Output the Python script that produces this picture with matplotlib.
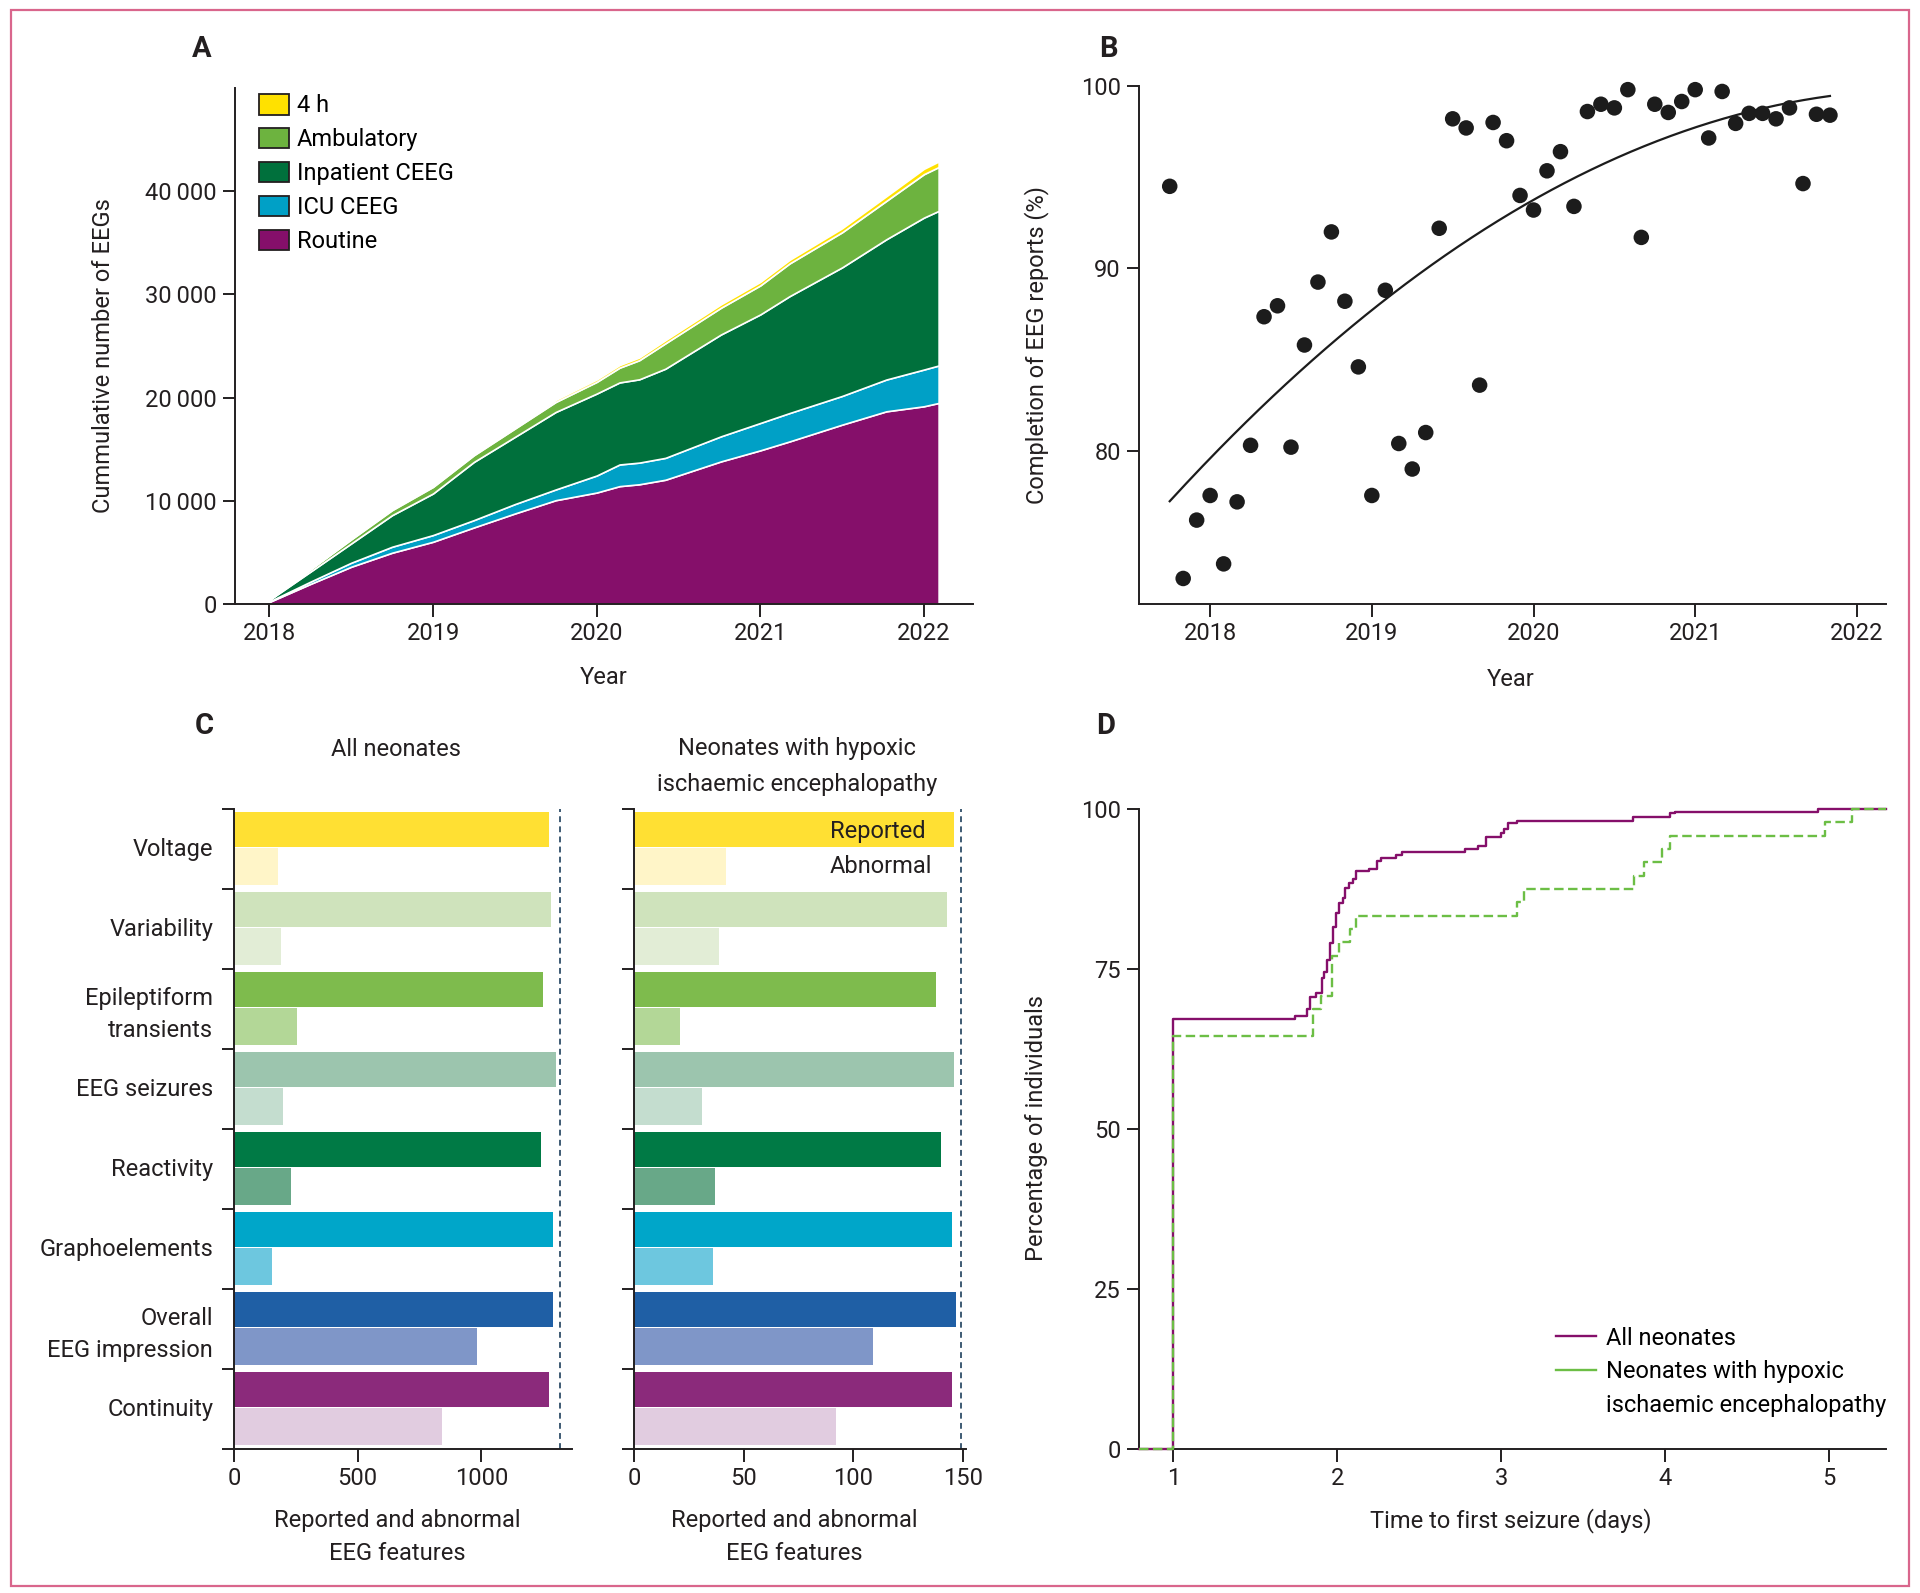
import numpy as np
import pandas as pd
import matplotlib
matplotlib.use("Agg")
import matplotlib.pyplot as plt
from matplotlib.lines import Line2D
from matplotlib.patches import Patch, Rectangle

plt.rcParams['font.family'] = ['Roboto', 'DejaVu Sans']
plt.rcParams['font.size'] = 17

INK = '#231f20'
W, H = 1920, 1593

# ---- A: cumulative EEGs by type ----
years_a = [2018.0, 2018.25, 2018.5, 2018.75, 2019.0, 2019.25, 2019.5, 2019.75, 2020.0, 2020.14,
           2020.26, 2020.42, 2020.76, 2021.0, 2021.18, 2021.5, 2021.77, 2022.0, 2022.09]
routine = [200, 1940, 3610, 4970, 6030, 7420, 8770, 10060, 10800, 11420,
           11600, 12040, 13820, 14890, 15760, 17380, 18670, 19160, 19480]
icu_ceeg = [50, 220, 390, 580, 650, 710, 910, 1040, 1650, 2100,
            2100, 2120, 2430, 2650, 2750, 2780, 3080, 3560, 3630]
inpatient_ceeg = [150, 970, 1870, 3060, 4030, 5640, 6510, 7510, 7940, 7950,
                  8070, 8640, 9870, 10520, 11330, 12460, 13590, 14720, 14980]
ambulatory = [20, 220, 390, 490, 640, 650, 810, 970, 1130, 1430,
              1850, 2460, 2590, 2810, 3170, 3400, 3720, 4210, 4250]
four_h = [10, 40, 70, 100, 120, 140, 170, 200, 230, 250,
          260, 300, 330, 340, 350, 390, 450, 520, 540]
type_labels = ['Routine', 'ICU CEEG', 'Inpatient CEEG', 'Ambulatory', '4 h']
type_colors = ['#850f6a', '#00a0c6', '#00703c', '#6db33f', '#ffe100']

# ---- B: monthly completion of EEG reports (%) from Oct 2017 ----
completion = [94.5, 73.0, 76.2, 77.55, 73.8, 77.2, 80.3, 87.35, 87.95, 80.2,
              85.8, 89.25, 92.0, 88.2, 84.6, 77.55, 88.8, 80.4, 79.0, 81.0,
              92.2, 98.2, 97.7, 83.6, 98.0, 97.0, 94.0, 93.2, 95.35, 96.4,
              93.4, 98.6, 99.0, 98.8, 99.8, 91.7, 99.0, 98.55, 99.15, 99.8,
              97.15, 99.7, 97.95, 98.5, 98.5, 98.2, 98.8, 94.65, 98.45, 98.4]

# ---- C: reported / abnormal EEG features ----
features = ['Voltage', 'Variability', 'Epileptiform\ntransients', 'EEG seizures',
            'Reactivity', 'Graphoelements', 'Overall\nEEG impression', 'Continuity']
all_reported = [1273, 1284, 1251, 1304, 1243, 1289, 1289, 1273]
all_abnormal = [177, 192, 253, 197, 230, 154, 982, 841]
all_total = 1319
hie_reported = [146, 143, 138, 146, 140, 145, 147, 145]
hie_abnormal = [42, 39, 21, 31, 37, 36, 109, 92]
hie_total = 149
reported_colors = ['#ffe033', '#cfe3bc', '#7ebb4d', '#9cc5ae', '#007a45', '#00a6c9', '#1f5fa5', '#8b2a7b']
abnormal_colors = ['#fff5c8', '#e2edd6', '#b3d797', '#c4ddcf', '#68a888', '#6dc7df', '#7f96c8', '#e1cce0']

# ---- D: time to first seizure ----
days_all = [0.79, 1.0, 1.74, 1.816, 1.836, 1.871, 1.905, 1.917, 1.937, 1.958, 1.974, 1.993,
            2.011, 2.035, 2.046, 2.074, 2.094, 2.115, 2.196, 2.242, 2.267, 2.356, 2.395,
            2.781, 2.862, 2.91, 3.0, 3.017, 3.041, 3.1, 3.806, 4.03, 4.064, 4.935, 5.35]
pct_all = [0, 67.2, 67.7, 68.8, 70.7, 71.3, 73.6, 74.6, 76.4, 79.0, 81.5, 83.7,
           85.3, 86.1, 87.7, 88.4, 89.1, 90.3, 90.7, 91.8, 92.3, 92.8, 93.3,
           93.8, 94.2, 95.7, 96.3, 96.8, 97.8, 98.2, 98.7, 99.3, 99.6, 100, 100]
days_hie = [0.79, 1.0, 1.853, 1.9, 1.971, 2.011, 2.077, 2.115, 3.098, 3.139,
            3.814, 3.875, 3.983, 4.03, 4.98, 5.143, 5.35]
pct_hie = [0, 64.6, 68.75, 70.8, 77.1, 79.2, 81.25, 83.3, 85.4, 87.5,
           89.6, 91.7, 93.75, 95.8, 97.9, 100, 100]
purple = '#850f6a'
green = '#6cbe45'


def box(l, t, r, b):
    return [l / W, 1 - b / H, (r - l) / W, (b - t) / H]


def ftext(x, y, s, **kw):
    kw.setdefault('ha', 'center')
    kw.setdefault('va', 'center')
    kw.setdefault('color', INK)
    fig.text(x / W, 1 - y / H, s, **kw)


def style(ax):
    for s in ['top', 'right']:
        ax.spines[s].set_visible(False)
    for s in ['left', 'bottom']:
        ax.spines[s].set_linewidth(1.4)
        ax.spines[s].set_color(INK)
    ax.tick_params(length=9, width=1.4, color=INK, labelcolor=INK, labelsize=17, pad=4)


fig = plt.figure(figsize=(19.2, 15.93), dpi=100)
fig.patches.append(Rectangle((11 / W, 1 - 1586 / H), 1898 / W, 1576 / H, transform=fig.transFigure,
                             fill=False, edgecolor='#d9668c', linewidth=1.6))

# A
ax = fig.add_axes(box(235, 88, 973, 604))
style(ax)
ax.stackplot(years_a, routine, icu_ceeg, inpatient_ceeg, ambulatory, four_h,
             colors=type_colors, edgecolor='white', linewidth=1.2)
ax.set_xlim(2017.79, 2022.30)
ax.set_ylim(0, 50000)
ax.set_xticks([2018, 2019, 2020, 2021, 2022])
ax.set_yticks(range(0, 40001, 10000))
ax.set_yticklabels(['0' if v == 0 else f"{v // 1000}\u2009000" for v in range(0, 40001, 10000)])
handles = [Patch(facecolor=c, edgecolor=INK, linewidth=1.3) for c in type_colors][::-1]
ax.legend(handles, type_labels[::-1], loc='upper left', bbox_to_anchor=(0.033, 0.988),
          frameon=False, handlelength=1.25, handleheight=0.95, handletextpad=0.35,
          labelspacing=0.45, borderaxespad=0, borderpad=0, fontsize=17)
ftext(104, 356, 'Cummulative number of EEGs', rotation=90)
ftext(604, 677, 'Year')
ftext(202, 49, 'A', fontsize=21, fontweight='bold')

# B
ax = fig.add_axes(box(1139, 86, 1886, 604))
style(ax)
months = pd.period_range('2017-10', periods=len(completion), freq='M')
t = np.asarray(months.year + (months.month - 1) / 12, dtype=float)
ax.scatter(t, completion, s=125, color='#1c1c1c', edgecolors='none', clip_on=False, zorder=3)
coef = np.polyfit(t, completion, 2)
tt = np.linspace(t[0], t[-1], 200)
ax.plot(tt, np.polyval(coef, tt), color='#1c1c1c', lw=1.6)
ax.set_xlim(2017.56, 2022.18)
ax.set_ylim(71.6, 100)
ax.set_xticks([2018, 2019, 2020, 2021, 2022])
ax.set_yticks([80, 90, 100])
ftext(1037, 345, 'Completion of EEG reports (%)', rotation=90)
ftext(1511, 680, 'Year')
ftext(1108, 49, 'B', fontsize=21, fontweight='bold')

# C
pos = np.arange(len(features))
for side, (reported, abnormal, total, xmax, ticks, l, r) in enumerate([
        (all_reported, all_abnormal, all_total, 1367, [0, 500, 1000], 234, 572),
        (hie_reported, hie_abnormal, hie_total, 151.5, [0, 50, 100, 150], 634, 966)]):
    ax = fig.add_axes(box(l, 809, r, 1449))
    style(ax)
    ax.barh(pos + 0.035, reported, height=0.44, align='edge', color=reported_colors)
    ax.barh(pos + 0.49, abnormal, height=0.455, align='edge', color=abnormal_colors)
    ax.axvline(total, color='#3d5a73', lw=1.4, ls=(0, (3, 2.2)))
    ax.set_xlim(0, xmax)
    ax.set_ylim(len(features), 0)
    ax.set_xticks(ticks)
    ax.set_yticks(np.arange(len(features) + 1))
    ax.set_yticklabels([])
    ax.set_yticks(pos + 0.48, minor=True)
    if side == 0:
        ax.set_yticklabels(features, minor=True, ha='right', multialignment='right')
        for lbl in ax.get_yticklabels(minor=True):
            lbl.set_linespacing(1.5)
    ax.tick_params(axis='y', which='minor', length=0, pad=15, labelsize=17, labelcolor=INK)
    if side == 1:
        ax.text(89.4, 0.28, 'Reported', ha='left', va='center', color=INK, fontsize=17)
        ax.text(89.4, 0.72, 'Abnormal', ha='left', va='center', color=INK, fontsize=17)
    cx = (l + r) / 2
    ftext(cx - 6, 1521, 'Reported and abnormal')
    ftext(cx - 6, 1554, 'EEG features')
ftext(396, 749, 'All neonates')
ftext(797, 749, 'Neonates with hypoxic')
ftext(797, 784, 'ischaemic encephalopathy')
ftext(204, 726, 'C', fontsize=21, fontweight='bold')

# D
ax = fig.add_axes(box(1139, 809, 1886, 1449))
style(ax)
ax.plot(days_all, pct_all, drawstyle='steps-post', color=purple, lw=1.7, clip_on=False, zorder=3)
ax.plot(days_hie, pct_hie, drawstyle='steps-post', color=green, lw=1.7, ls=(0, (4, 1.9)),
        clip_on=False, zorder=4)
ax.set_xlim(0.79, 5.35)
ax.set_ylim(0, 100)
ax.set_xticks([1, 2, 3, 4, 5])
ax.set_yticks([0, 25, 50, 75, 100])
leg_handles = [Line2D([], [], color=purple, lw=1.7), Line2D([], [], color=green, lw=1.7),
               Line2D([], [], color='none')]
ax.legend(leg_handles, ['All neonates', 'Neonates with hypoxic', 'ischaemic encephalopathy'],
          loc='lower right', bbox_to_anchor=(1.0, 0.05), frameon=False, handlelength=1.7,
          handletextpad=0.4, labelspacing=0.45, borderaxespad=0, borderpad=0, fontsize=17)
ftext(1036, 1128, 'Percentage of individuals', rotation=90)
ftext(1511, 1521, 'Time to first seizure (days)')
ftext(1106, 726, 'D', fontsize=21, fontweight='bold')

fig.savefig('out.png', dpi=100)
